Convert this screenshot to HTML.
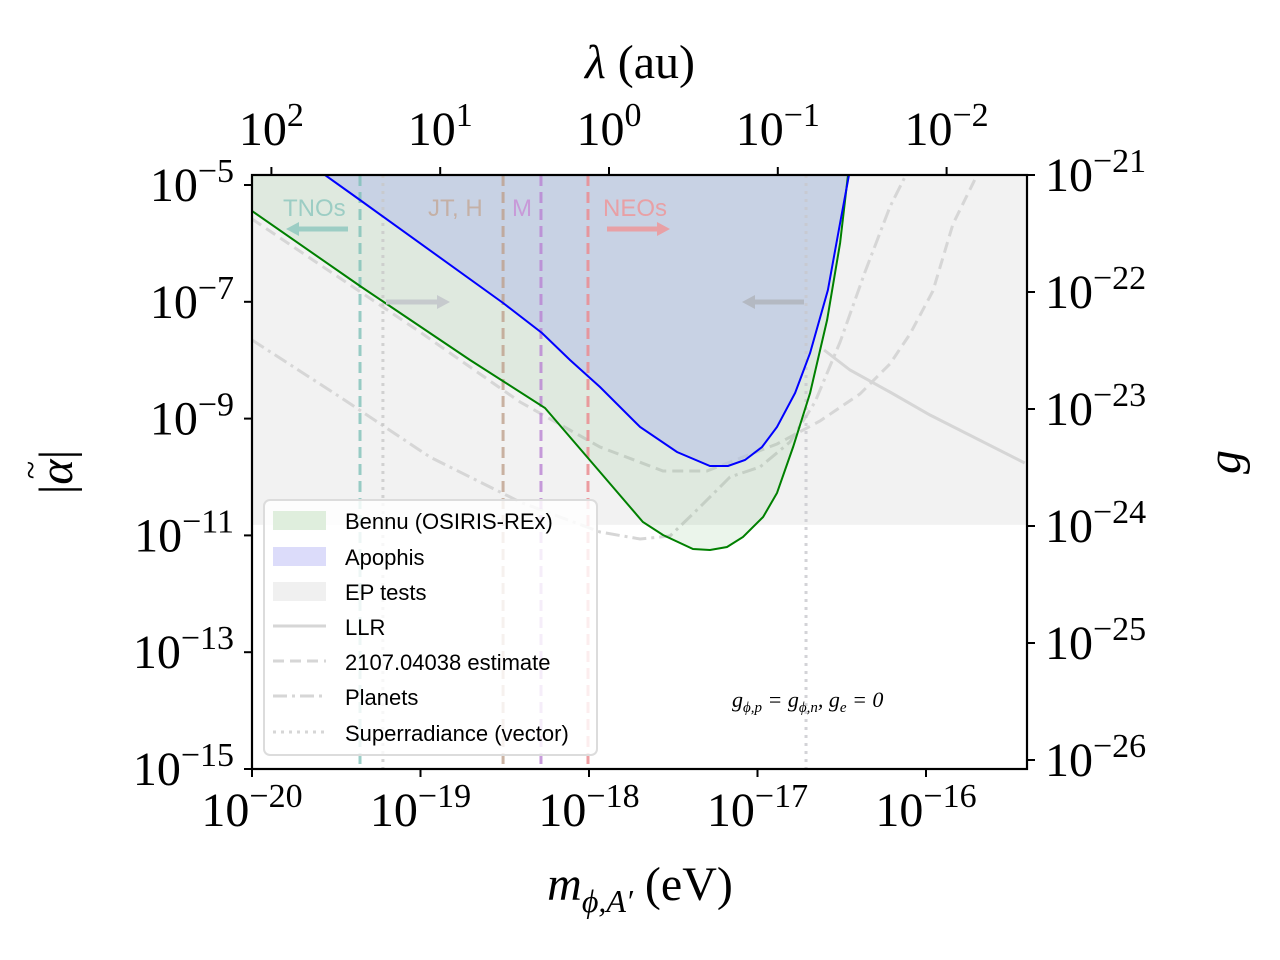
<!DOCTYPE html>
<html><head><meta charset="utf-8"><style>
body{margin:0;background:#fff}
svg{display:block}
text{font-family:"Liberation Serif","DejaVu Serif",serif}
.sans{font-family:"Liberation Sans","DejaVu Sans",sans-serif}
</style></head><body>
<svg id="chart" width="1280" height="960" viewBox="0 0 1280 960">
<g id="plot"></g>
</svg>
<script>
// data in log10 space
const bennuM=[-20,-19.359,-18.706,-18.261,-17.935,-17.680,-17.561,-17.383,-17.282,-17.181,-17.086,-16.967,-16.884,-16.789,-16.688,-16.587,-16.510,-16.463];
const bennuA=[-5.445,-6.729,-7.997,-8.818,-9.914,-10.771,-10.993,-11.233,-11.250,-11.199,-11.027,-10.685,-10.274,-9.486,-8.562,-7.312,-5.993,-4.829];
const apoM=[-19.567,-19.359,-18.510,-18.279,-18.113,-17.935,-17.697,-17.478,-17.282,-17.175,-17.074,-16.973,-16.884,-16.777,-16.688,-16.582,-16.510,-16.457];
const apoA=[-4.829,-5.257,-7.021,-7.534,-7.997,-8.459,-9.144,-9.572,-9.812,-9.812,-9.709,-9.486,-9.144,-8.562,-7.877,-6.798,-5.651,-4.829];
const estM=[-20,-19.003,-18.409,-17.935,-17.561,-17.300,-16.884,-16.629,-16.392,-16.214,-16.095,-15.959,-15.840,-15.697];
const estA=[-5.582,-7.517,-8.716,-9.486,-9.897,-9.897,-9.435,-9.041,-8.579,-8.065,-7.552,-6.815,-5.668,-4.829];
const planM=[-20,-19.478,-18.944,-18.409,-17.935,-17.697,-17.519,-17.341,-17.163,-16.985,-16.807,-16.659,-16.510,-16.362,-16.214,-16.125];
const planA=[-7.654,-8.630,-9.658,-10.428,-10.942,-11.062,-11.011,-10.514,-10.000,-9.829,-9.401,-8.716,-7.688,-6.490,-5.377,-4.863];
const llrM=[-16.605,-16.451,-16.214,-15.976,-15.414];
const llrA=[-7.825,-8.168,-8.545,-8.938,-9.760];
const vlinesM=[-19.359,-19.223,-18.510,-18.285,-18.006,-16.712];
const bottomTicks=[-20,-19,-18,-17,-16];
const topTicks=[2,1,0,-1,-2];
const leftTicks=[-5,-7,-9,-11,-13,-15];
const rightTicks=[-21,-22,-23,-24,-25,-26];
const epLimit=-10.82;

const X0=252,X1=1027,Y0=175,Y1=769;
const xs=m=>252+(m+20)*168.5;
const ys=a=>185-(a+5)*58.4;
const xl=l=>609-l*168.8;   // top axis: log10 lambda
const yg=g=>175-(g+21)*117; // right axis: log10 g
const NS='http://www.w3.org/2000/svg';
const svg=document.getElementById('chart');
const plot=document.getElementById('plot');
function mk(tag,attrs,parent){const e=document.createElementNS(NS,tag);for(const k in attrs)e.setAttribute(k,attrs[k]);(parent||svg).appendChild(e);return e;}
function pts(M,A){return M.map((m,i)=>xs(m).toFixed(1)+','+ys(A[i]).toFixed(1)).join(' ');}

const defs=mk('defs',{});const cp=mk('clipPath',{id:'clip'},defs);mk('rect',{x:X0,y:Y0,width:X1-X0,height:Y1-Y0},cp);
plot.setAttribute('clip-path','url(#clip)');

let e=mk('rect',{x:X0,y:Y0,width:X1-X0,height:ys(epLimit)-Y0,fill:'#f2f2f2'},plot);



e=mk('polyline',{points:pts(estM,estA),fill:'none',stroke:'#d6d6d6','stroke-width':3,'stroke-dasharray':'11,6'},plot);


e=mk('polyline',{points:pts(planM,planA),fill:'none',stroke:'#d6d6d6','stroke-width':3,'stroke-dasharray':'14,5,3,5'},plot);


e=mk('polyline',{points:pts(llrM,llrA),fill:'none',stroke:'#d6d6d6','stroke-width':3},plot);



e=mk('polygon',{points:pts(bennuM,bennuA)+' '+xs(bennuM[bennuM.length-1])+','+(Y0-5)+' '+X0+','+(Y0-5),fill:'rgba(0,128,0,0.08)'},plot);


e=mk('polygon',{points:pts(apoM,apoA),fill:'rgba(185,195,230,0.62)'},plot);



const vcol=['rgba(120,190,180,0.75)','rgba(200,200,200,0.8)','rgba(190,160,140,0.8)','rgba(185,130,210,0.8)','rgba(235,140,145,0.85)','rgba(200,200,205,0.8)'];
const vdash=['11,6','3,5','11,6','11,6','11,6','3,5'];
vlinesM.forEach((m,i)=>{
 const l=mk('line',{x1:xs(m),x2:xs(m),y1:Y0,y2:Y1,stroke:vcol[i],'stroke-width':3,'stroke-dasharray':vdash[i]},plot);
 
 
});

e=mk('polyline',{points:pts(bennuM,bennuA),fill:'none',stroke:'#008000','stroke-width':2},plot);


e=mk('polyline',{points:pts(apoM,apoA),fill:'none',stroke:'#0000ff','stroke-width':2},plot);



function arrow(x1,x2,y,col,name){
 const g=mk('g',{},plot);
 
 
 const d=x2>x1?1:-1;
 mk('line',{x1:x1,x2:x2-d*10,y1:y,y2:y,stroke:col,'stroke-width':5},g);
 mk('polygon',{points:`${x2},${y} ${x2-d*13},${y-7} ${x2-d*13},${y+7}`,fill:col},g);
}
function label(t,x,y,col,name){const el=mk('text',{x:x,y:y,fill:col,'font-size':24,class:'sans'},plot);el.textContent=t;}
label('TNOs',283,216,'#9ccdc4','tnos-label');
arrow(348,286,229,'#9ccdc4','tnos-arrow');
label('JT, H',428,216,'#c4b0a6','jt-h-label');
label('M',512,216,'#c89ad8','m-label');
label('NEOs',603,216,'#e8a0a5','neos-label');
arrow(607,670,229,'#e8a0a5','neos-arrow');
arrow(386,450,302,'#c6cacd','superradiance-arrow-right');
arrow(804,742,302,'#b4b9c2','superradiance-arrow-left');

e=mk('rect',{x:X0,y:Y0,width:X1-X0,height:Y1-Y0,fill:'none',stroke:'#000','stroke-width':2.2});



function tickLabel(exp,x,y,anchor,name){
 const t=mk('text',{x:x,y:y,'font-size':48,'text-anchor':anchor,fill:'#000'});
 
 
 const a=mk('tspan',{},t);a.textContent='10';
 const b=mk('tspan',{dy:-19,'font-size':34},t);b.textContent=(exp<0?'\u2212'+(-exp):''+exp);
}
bottomTicks.forEach(m=>{mk('line',{x1:xs(m),x2:xs(m),y1:Y1,y2:Y1+8,stroke:'#000','stroke-width':2});tickLabel(m,xs(m),826,'middle','x-tick-label');});
topTicks.forEach(l=>{mk('line',{x1:xl(l),x2:xl(l),y1:Y0,y2:Y0-8,stroke:'#000','stroke-width':2});tickLabel(l,xl(l),145,'middle','top-tick-label');});
leftTicks.forEach(a=>{mk('line',{x1:X0,x2:X0-8,y1:ys(a),y2:ys(a),stroke:'#000','stroke-width':2});tickLabel(a,234,ys(a)+16,'end','y-tick-label');});
rightTicks.forEach(g=>{mk('line',{x1:X1,x2:X1+8,y1:yg(g),y2:yg(g),stroke:'#000','stroke-width':2});tickLabel(g,1045,yg(g)+16,'start','right-tick-label');});
</script>
<svg width="1280" height="960" style="position:absolute;left:0;top:0">
<text x="640" y="78" font-size="48" text-anchor="middle"><tspan font-style="italic">λ</tspan> (au)</text>
<text x="640" y="900" font-size="48" text-anchor="middle"><tspan font-style="italic">m</tspan><tspan font-size="32" dy="12" font-style="italic">ϕ,A′</tspan><tspan dy="-12"> (eV)</tspan></text>
<g transform="translate(72,472) rotate(-90)">
<text x="0" y="0" font-size="48" text-anchor="middle">|<tspan font-style="italic">α</tspan>|</text>
<text x="2" y="-30" font-size="34" text-anchor="middle">~</text>
</g>
<text transform="translate(1240,462) rotate(-90)" font-size="48" font-style="italic" text-anchor="middle">g</text>
<text x="732" y="707" font-size="22" font-style="italic">g<tspan font-size="15" dy="5">ϕ,p</tspan><tspan dy="-5"> = g</tspan><tspan font-size="15" dy="5">ϕ,n</tspan><tspan dy="-5">,   g</tspan><tspan font-size="15" dy="5">e</tspan><tspan dy="-5"> = 0</tspan></text>
<g font-family="Liberation Sans, DejaVu Sans, sans-serif" font-size="22">
<rect x="264" y="500" width="333" height="255" rx="6" fill="rgba(255,255,255,0.82)" stroke="#dcdcdc" stroke-width="2"/>
<g><rect x="273" y="511" width="53" height="19" fill="#dfeedd"/><text x="345" y="529" class="sans">Bennu (OSIRIS-REx)</text></g>
<g><rect x="273" y="547" width="53" height="19" fill="#dcdcfa"/><text x="345" y="565" class="sans">Apophis</text></g>
<g><rect x="273" y="582" width="53" height="19" fill="#f0f0f0"/><text x="345" y="600" class="sans">EP tests</text></g>
<g><line x1="273" x2="326" y1="626" y2="626" stroke="#d6d6d6" stroke-width="3"/><text x="345" y="635" class="sans">LLR</text></g>
<g><line x1="273" x2="326" y1="661" y2="661" stroke="#d6d6d6" stroke-width="3" stroke-dasharray="11,6"/><text x="345" y="670" class="sans">2107.04038 estimate</text></g>
<g><line x1="273" x2="326" y1="696" y2="696" stroke="#d6d6d6" stroke-width="3" stroke-dasharray="14,5,3,5"/><text x="345" y="705" class="sans">Planets</text></g>
<g><line x1="273" x2="326" y1="732" y2="732" stroke="#d6d6d6" stroke-width="3" stroke-dasharray="3,5"/><text x="345" y="741" class="sans">Superradiance (vector)</text></g>
</g>
</svg>
</body></html>
